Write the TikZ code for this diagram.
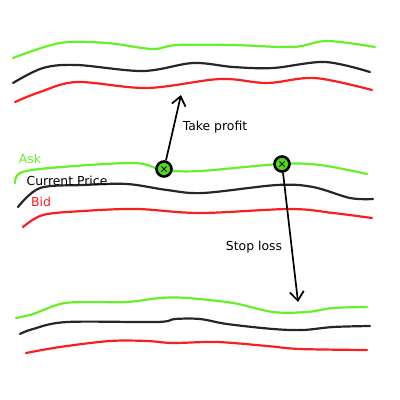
\documentclass[tikz,border=0pt]{standalone}
\usepackage{fontspec}
\setmainfont{DejaVu Sans}
\usetikzlibrary{arrows.meta}
\definecolor{askg}{RGB}{102,240,40}
\definecolor{bidr}{RGB}{250,30,30}
\definecolor{dotg}{RGB}{80,220,30}
\tikzset{
  pline/.style={line width=2.2pt, line cap=round, line join=round},
  askline/.style={pline, draw=askg},
  curline/.style={pline, draw=black!85},
  bidline/.style={pline, draw=bidr},
  order/.style={circle, draw=black, line width=2.6pt, fill=dotg, minimum size=15pt, inner sep=0pt},
  move/.style={line width=1.7pt, -{Straight Barb[length=9pt,width=14pt,line width=1.7pt]}},
  lbl/.style={font=\fontsize{12.4}{14}\selectfont, inner sep=0pt}
}
\begin{document}
\begin{tikzpicture}[x=1pt,y=-1pt]
\useasboundingbox (0,0) rectangle (400,400);
% top lines
\draw[askline] plot[smooth,tension=0.55] coordinates {(13,58) (60,43) (107,43) (152,49) (177,45) (233,45) (293,47) (327,41) (375,47)};
\draw[curline] plot[smooth,tension=0.55] coordinates {(13,83) (43,68) (77,65) (143,71) (193,63) (233,67) (273,68) (325,62) (370,72)};
\draw[bidline] plot[smooth,tension=0.55] coordinates {(15,102) (40,92) (77,82) (147,88) (220,79) (267,83) (315,78) (372,90)};
% middle lines
\draw[askline] plot[smooth,tension=0.55] coordinates {(15,183) (20,173) (50,168) (133,163) (163,170) (200,171) (280,164) (320,165) (367,174)};
\draw[curline] plot[smooth,tension=0.55] coordinates {(18,207) (40,188) (83,185) (127,184) (167,190) (203,193) (277,185) (313,187) (350,198) (373,199)};
\draw[bidline] plot[smooth,tension=0.55] coordinates {(23,227) (43,215) (83,211) (137,209) (200,213) (290,209) (333,213) (372,218)};
% bottom lines
\draw[askline] plot[smooth,tension=0.55] coordinates {(16,318) (33,314) (60,304) (83,302) (127,302) (160,298) (187,298) (233,303) (273,312) (307,312) (333,308) (367,307)};
\draw[curline] plot[smooth,tension=0.55] coordinates {(20,334) (33,329) (67,322) (157,322) (175,319) (200,319) (227,324) (273,329) (303,330) (333,327) (370,326)};
\draw[bidline] plot[smooth,tension=0.55] coordinates {(26,353) (60,347) (110,341) (147,341) (173,343) (217,342) (267,346) (300,349) (367,350)};
% labels
\node[lbl, text=askg] (ask) at (30,159) {Ask};
\node[lbl] (cur) at (67,181) {Current Price};
\node[lbl, text=bidr] (bid) at (41,202) {Bid};
\node[lbl] (tp) at (215,127) {Take profit};
\node[lbl] (sl) at (254,247) {Stop loss};
% order points
\node[order] (o1) at (164,169) {};
\node[order] (o2) at (282,164) {};
\foreach \o in {o1,o2}{
  \draw[line width=0.8pt] ([shift={(-2.5,-2.5)}]\o.center) -- ([shift={(2.5,2.5)}]\o.center);
  \draw[line width=0.8pt] ([shift={(-2.5,2.5)}]\o.center) -- ([shift={(2.5,-2.5)}]\o.center);
}
\coordinate (tpt) at (181,95);
\coordinate (slt) at (298,302);
\draw[move] (o1) -- (tpt);
\draw[move] (o2) -- (slt);
\end{tikzpicture}
\end{document}
